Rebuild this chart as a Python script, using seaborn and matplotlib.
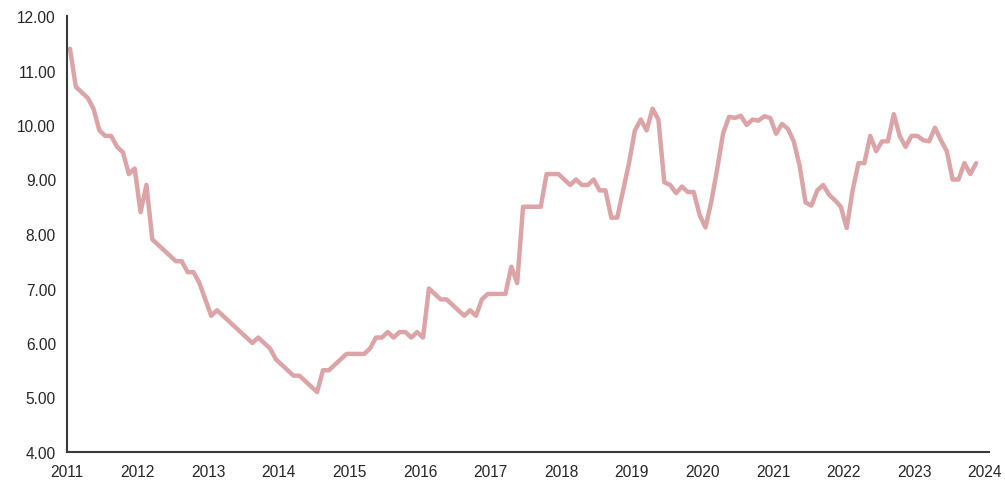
import numpy as np
import pandas as pd
import seaborn as sns
from matplotlib import pyplot as plt

# monthly values, Jan 2011 .. Nov 2023
v2011 = [11.40, 10.70, 10.60, 10.50, 10.30, 9.90, 9.80, 9.80, 9.60, 9.50, 9.10, 9.20]
v2012 = [8.40, 8.90, 7.90, 7.80, 7.70, 7.60, 7.50, 7.50, 7.30, 7.30, 7.10, 6.80]
v2013 = [6.50, 6.60, 6.50, 6.40, 6.30, 6.20, 6.10, 6.00, 6.10, 6.00, 5.90, 5.70]
v2014 = [5.60, 5.50, 5.40, 5.40, 5.30, 5.20, 5.10, 5.50, 5.50, 5.60, 5.70, 5.80]
v2015 = [5.80, 5.80, 5.80, 5.90, 6.10, 6.10, 6.20, 6.10, 6.20, 6.20, 6.10, 6.20]
v2016 = [6.10, 7.00, 6.90, 6.80, 6.80, 6.70, 6.60, 6.50, 6.60, 6.50, 6.80, 6.90]
v2017 = [6.90, 6.90, 6.90, 7.40, 7.10, 8.50, 8.50, 8.50, 8.50, 9.10, 9.10, 9.10]
v2018 = [9.00, 8.90, 9.00, 8.90, 8.90, 9.00, 8.80, 8.80, 8.30, 8.30, 8.80, 9.30]
v2019 = [9.90, 10.10, 9.90, 10.30, 10.10, 8.95, 8.90, 8.75, 8.87, 8.77, 8.77, 8.35]
v2020 = [8.12, 8.60, 9.20, 9.85, 10.15, 10.13, 10.17, 10.00, 10.10, 10.08, 10.16, 10.13]
v2021 = [9.84, 10.02, 9.93, 9.70, 9.25, 8.58, 8.52, 8.80, 8.90, 8.72, 8.62, 8.50]
v2022 = [8.11, 8.80, 9.30, 9.30, 9.80, 9.52, 9.70, 9.70, 10.20, 9.80, 9.60, 9.80]
v2023 = [9.80, 9.72, 9.70, 9.95, 9.72, 9.52, 9.00, 9.00, 9.30, 9.10, 9.30]

values = v2011 + v2012 + v2013 + v2014 + v2015 + v2016 + v2017 + v2018 + v2019 + v2020 + v2021 + v2022 + v2023
years = list(range(2011, 2025))
yticks = [4, 5, 6, 7, 8, 9, 10, 11, 12]

# mid-month positions
t = 2011 + (np.arange(len(values)) + 0.5) / 12.0
df = pd.DataFrame({'t': t, 'v': values})

sns.set_style('white')
plt.rcParams['font.family'] = ['Liberation Sans', 'DejaVu Sans']

fig = plt.figure(figsize=(10.05, 4.81), dpi=100)
ax = fig.add_axes([67 / 1005, 1 - 453 / 481, (989 - 67) / 1005, (453 - 17) / 481])
sns.lineplot(data=df, x='t', y='v', ax=ax, color='#DDA4A7', linewidth=3.2)

ax.set_xlim(2011, 2024 + 4 / 70.6)
ax.set_ylim(4, 12)
ax.set_xticks(years)
ax.set_xticklabels([str(y) for y in years])
ax.set_yticks(yticks)
ax.set_yticklabels(['%.2f' % y for y in yticks])
ax.set_xlabel('')
ax.set_ylabel('')
for s in ['top', 'right']:
    ax.spines[s].set_visible(False)
for s in ['left', 'bottom']:
    ax.spines[s].set_color('#3a3a3a')
    ax.spines[s].set_linewidth(1.5)
ax.tick_params(axis='y', direction='out', length=5, width=1.5, color='#3a3a3a', labelsize=11.2, pad=3)
ax.tick_params(axis='x', length=0, labelsize=11.2, pad=9)

fig.savefig('out.png', dpi=100)
